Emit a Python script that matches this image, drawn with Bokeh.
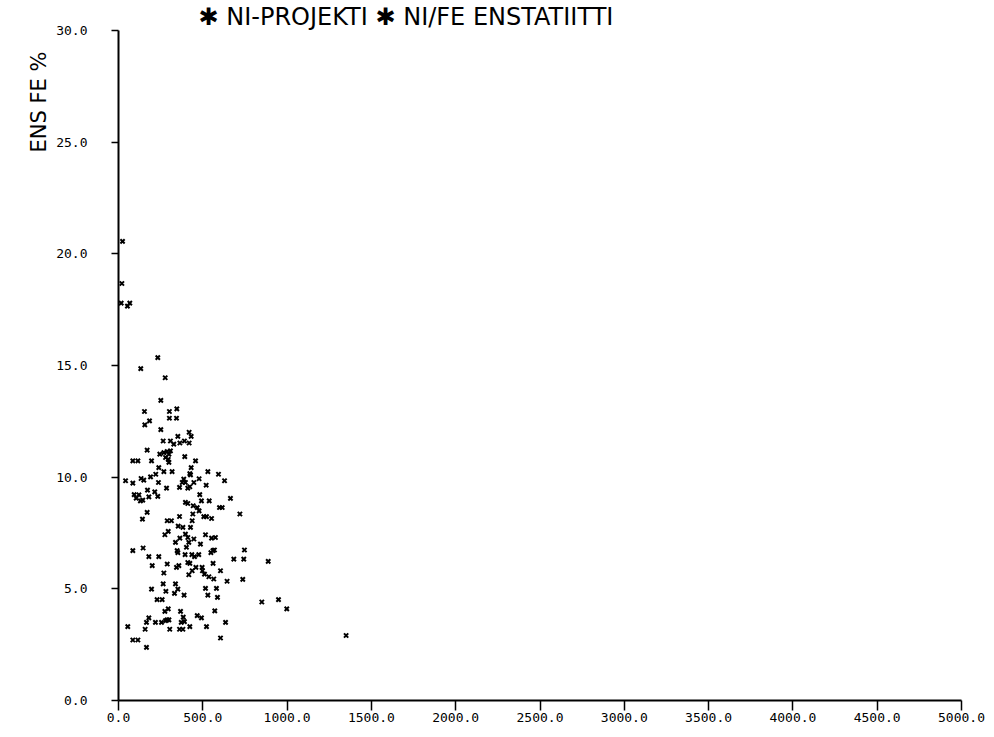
from bokeh.plotting import figure
from bokeh.models import Range1d, FixedTicker, PrintfTickFormatter, Title, ColumnDataSource
from bokeh.embed import file_html
from bokeh.resources import INLINE

title_text = "✱ NI-PROJEKTI ✱ NI/FE ENSTATIITTI"
y_label_text = "ENS FE %"
x_ticks = [0, 500, 1000, 1500, 2000, 2500, 3000, 3500, 4000, 4500, 5000]
y_ticks = [0, 5, 10, 15, 20, 25, 30]

ni_values = [
    24, 20, 16, 53, 67, 233, 132, 277, 251,
    154, 302, 346, 156, 184, 302, 344, 251, 352, 419, 431,
    265, 308, 364, 391, 419, 328, 170, 245, 269, 289, 299, 279, 295, 308, 393, 299, 457,
    85, 115, 196, 239, 269, 318, 431, 423, 530, 593,
    42, 85, 134, 150, 190, 221, 237, 285, 362, 378, 387, 397, 411, 423, 427, 447, 478, 520, 629,
    93, 121, 105, 130, 144, 172, 180, 215, 233, 397, 411, 443, 467, 482, 492, 538, 599, 615, 664,
    142, 170, 441, 478, 506, 522, 552, 720,
    289, 314, 362, 437, 354, 382, 427, 275, 295, 338, 364, 397, 411, 447, 516, 552, 575, 417, 486,
    85, 146, 348, 352, 403, 560, 569, 548, 747,
    180, 239, 200, 289, 344, 358, 395, 435, 451, 476, 411, 423, 437, 459, 496, 498, 417, 561, 605, 684, 743, 888,
    269, 510, 536, 565, 644, 737,
    196, 265, 281, 338, 352, 332, 389, 516, 581, 530, 587, 850, 949, 998,
    229, 259, 275, 295, 368, 571,
    180, 166, 219, 255, 279, 289, 299, 384, 391, 372, 467, 492, 635,
    55, 158, 304, 362, 382, 423, 522,
    85, 115, 605, 166, 1350,
]
fe_values = [
    20.56, 18.67, 17.79, 17.66, 17.79, 15.35, 14.86, 14.45, 13.44,
    12.94, 12.94, 13.06, 12.34, 12.52, 12.64, 12.64, 12.13, 11.83, 12.01, 11.83,
    11.62, 11.62, 11.53, 11.62, 11.53, 11.48, 11.21, 11.03, 11.10, 11.15, 11.03, 10.88, 10.80, 11.18, 10.92, 10.66, 10.73,
    10.73, 10.73, 10.73, 10.43, 10.25, 10.25, 10.43, 10.16, 10.25, 10.13,
    9.84, 9.73, 9.94, 9.87, 10.01, 10.13, 9.76, 9.51, 9.54, 9.76, 9.91, 9.76, 9.51, 9.57, 10.10, 9.76, 9.93, 9.64, 9.84,
    9.22, 9.21, 9.06, 8.94, 8.97, 9.42, 9.12, 9.34, 9.14, 8.87, 8.82, 8.72, 8.64, 9.22, 8.94, 8.94, 8.64, 8.64, 9.05,
    8.12, 8.42, 8.35, 8.49, 8.23, 8.23, 8.15, 8.35,
    8.05, 8.05, 8.24, 8.05, 7.81, 7.75, 7.75, 7.42, 7.57, 7.08, 7.27, 7.45, 7.30, 7.23, 7.42, 7.27, 7.30, 7.08, 7.00,
    6.71, 6.83, 6.71, 6.62, 6.86, 6.71, 6.74, 6.62, 6.74,
    6.44, 6.44, 6.04, 6.11, 5.96, 6.04, 6.53, 6.53, 6.44, 6.53, 6.18, 6.14, 5.81, 5.96, 5.96, 5.81, 5.63, 6.14, 5.81, 6.33, 6.33, 6.23,
    5.71, 5.66, 5.54, 5.44, 5.34, 5.42,
    4.99, 5.22, 4.89, 5.22, 4.99, 4.80, 4.72, 5.02, 5.02, 4.72, 4.62, 4.41, 4.52, 4.10,
    4.52, 4.52, 3.99, 4.10, 3.99, 4.01,
    3.70, 3.50, 3.50, 3.50, 3.58, 3.61, 3.61, 3.73, 3.53, 3.50, 3.80, 3.70, 3.50,
    3.31, 3.19, 3.19, 3.19, 3.19, 3.31, 3.31,
    2.71, 2.71, 2.80, 2.38, 2.91,
]

source = ColumnDataSource(data=dict(ni=ni_values, fe=fe_values))

p = figure(
    width=985, height=729,
    output_backend="svg", toolbar_location=None,
    x_range=Range1d(x_ticks[0], x_ticks[-1]),
    y_range=Range1d(y_ticks[0], y_ticks[-1]),
    min_border_left=118, min_border_top=29,
    min_border_right=24, min_border_bottom=29,
    background_fill_color="white", border_fill_color="white",
)
p.outline_line_color = None
p.xgrid.visible = False
p.ygrid.visible = False

p.scatter("ni", "fe", source=source, marker="x", size=6, line_width=2, color="black")

for ax, ticks in ((p.xaxis, x_ticks), (p.yaxis, y_ticks)):
    ax.ticker = FixedTicker(ticks=ticks)
    ax.formatter = PrintfTickFormatter(format="%.1f")
    ax.axis_line_width = 2
    ax.axis_line_color = "black"
    ax.major_tick_line_width = 1.5
    ax.major_tick_line_color = "black"
    ax.major_tick_in = 0
    ax.minor_tick_line_color = None
    ax.major_label_text_font = "DejaVu Sans Mono"
    ax.major_label_text_font_size = "13px"
    ax.major_label_text_color = "black"

p.xaxis.major_tick_out = 10
p.xaxis.major_label_standoff = 2
p.yaxis.major_tick_out = 7
p.yaxis.major_label_standoff = 24

# chart title in the top panel, shifted right from the frame's left edge
p.title.text = title_text
p.title.align = "left"
p.title.offset = 80
p.title.standoff = 0
p.title.text_font = "DejaVu Sans"
p.title.text_font_size = "24px"
p.title.text_font_style = "normal"
p.title.text_color = "black"

# rotated y label near the top of the left panel
p.add_layout(Title(
    text=y_label_text, align="right", offset=21, standoff=6,
    text_font="DejaVu Sans", text_font_size="21px",
    text_font_style="normal", text_color="black",
), "left")

open("out.html", "w").write(file_html(p, INLINE))
